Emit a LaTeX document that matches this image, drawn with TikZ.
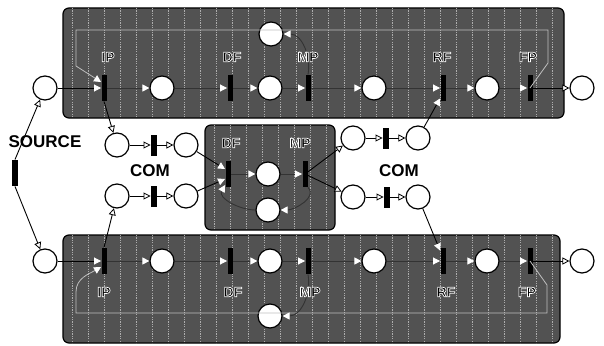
\documentclass[tikz,border=0pt]{standalone}
\usepackage{fontspec}
\setsansfont{Liberation Sans}
\usetikzlibrary{arrows.meta}

\newcommand{\stagebox}[4]{%
  \draw[stage] (#1,#2) rectangle (#3,#4);
  \begin{scope}
    \clip[rounded corners=6pt] (#1,#2) rectangle (#3,#4);
    \foreach \x in {0,16,...,512} { \draw[grain] ({#1+9+\x},#2) -- ({#1+9+\x},#4); }
  \end{scope}}

% black letters with a white rim, as printed on the stippled boxes
\newcommand{\rimmed}[1]{%
  \special{pdf:literal direct 2 Tr 0.7 w 1 1 1 RG}#1\special{pdf:literal direct 0 Tr 0 0 0 RG}}

\begin{document}
\begin{tikzpicture}[x=1pt, y=-1pt, line width=0.9pt,
  place/.style={circle, draw, fill=white, minimum size=24pt, inner sep=0pt, line width=1.2pt},
  trans/.style={rectangle, fill=black, minimum width=5pt, minimum height=26pt, inner sep=0pt},
  comtrans/.style={trans, minimum width=6pt, minimum height=21pt},
  arc/.style={-{Triangle[fill=white, length=7pt, width=7pt, line width=0.8pt]}},
  intip/.style={-{Triangle[fill=white, color=white, length=7pt, width=7pt]}},
  inarc/.style={intip, black!80},
  feedback/.style={intip, black!25, line width=0.8pt},
  stage/.style={draw, line width=1.2pt, rounded corners=6pt, fill=black!68},
  grain/.style={black!32, line width=0.7pt, dash pattern=on 1.2pt off 1.2pt},
  lbl/.style={font=\sffamily\bfseries\fontsize{17}{17}\selectfont, inner sep=0pt},
  stagelbl/.style={font=\sffamily\bfseries\fontsize{14}{14}\selectfont, inner sep=0pt}]
  \useasboundingbox (0,0) rectangle (604,345);

  % pipeline boxes
  \stagebox{63}{8}{564}{118}
  \stagebox{63}{235}{560}{343}
  \stagebox{205}{125}{335}{230}

  % top pipeline
  \node[place] (pint) at (45,88) {};
  \node[trans] (ipt) at (104,88) {};
  \node[place] (p1t) at (162,88) {};
  \node[trans] (dft) at (230,88) {};
  \node[place] (p2t) at (270,88) {};
  \node[place] (rest) at (271,34) {};
  \node[trans] (mpt) at (308,88) {};
  \node[place] (p3t) at (374,88) {};
  \node[trans] (rft) at (443,88) {};
  \node[place] (p4t) at (487,88) {};
  \node[trans] (fpt) at (530,88) {};
  \node[place] (poutt) at (582,88) {};

  % bottom pipeline
  \node[place] (pinb) at (45,261) {};
  \node[trans] (ipb) at (104,261) {};
  \node[place] (p1b) at (162,261) {};
  \node[trans] (dfb) at (230,261) {};
  \node[place] (p2b) at (270,261) {};
  \node[place] (resb) at (270,316) {};
  \node[trans] (mpb) at (308,261) {};
  \node[place] (p3b) at (374,261) {};
  \node[trans] (rfb) at (443,261) {};
  \node[place] (p4b) at (487,261) {};
  \node[trans] (fpb) at (530,261) {};
  \node[place] (poutb) at (582,261) {};

  % shared stage
  \node[trans] (dfm) at (228,174) {};
  \node[place] (pm) at (268,174) {};
  \node[place] (resm) at (268,210) {};
  \node[trans] (mpm) at (305,174) {};

  % communication
  \node[place] (cta) at (117,145) {};
  \node[comtrans] (comt) at (154,145) {};
  \node[place] (ctb) at (186,145) {};
  \node[place] (cba) at (117,196) {};
  \node[comtrans] (comb) at (154,196) {};
  \node[place] (cbb) at (186,196) {};
  \node[place] (crta) at (353,138) {};
  \node[comtrans] (comrt) at (386,138) {};
  \node[place] (crtb) at (418,138) {};
  \node[place] (crba) at (353,197) {};
  \node[comtrans] (comrb) at (387,197) {};
  \node[place] (crbb) at (418,197) {};

  \node[trans, minimum width=6pt] (src) at (15,173) {};

  % corners of the feedback loops FP -> IP
  \coordinate (fpct) at (548,63);
  \coordinate (fpet) at (548,30);
  \coordinate (ipet) at (76,30);
  \coordinate (ipct) at (76,66);
  \coordinate (fpcb) at (547,285);
  \coordinate (fpeb) at (547,313);
  \coordinate (ipeb) at (76,313);
  \coordinate (ipcb) at (76,292);

  % arcs, top
  \draw[arc] (src.north) -- (pint);
  \draw[intip] (pint) -- (ipt);
  \draw[feedback] (fpt.center) -- (fpct) -- (fpet) -- (ipet) -- (ipct) -- ([yshift=6pt]ipt.west);
  \draw[inarc] (ipt) -- (p1t);
  \draw[inarc] (p1t) -- (dft);
  \draw[inarc] (dft) -- (p2t);
  \draw[inarc] (p2t) -- (mpt);
  \draw[inarc] (mpt.north) to[out=80, in=0] (rest);
  \draw[inarc] (mpt) -- (p3t);
  \draw[inarc] (p3t) -- (rft);
  \draw[inarc] (rft) -- (p4t);
  \draw[inarc] (p4t) -- (fpt);
  \draw[arc] (fpt) -- (poutt);
  \draw[arc] (ipt.south) -- (cta);

  % arcs, bottom
  \draw[arc] (src.south) -- (pinb);
  \draw[intip] (pinb) -- (ipb);
  \draw[feedback] (fpb.center) -- (fpcb) -- (fpeb) -- (ipeb) -- (ipcb) to[out=90, in=210] ([yshift=-6pt]ipb.west);
  \draw[inarc] (ipb) -- (p1b);
  \draw[inarc] (p1b) -- (dfb);
  \draw[inarc] (dfb) -- (p2b);
  \draw[inarc] (p2b) -- (mpb);
  \draw[inarc] (mpb.south) to[out=-80, in=0] (resb);
  \draw[inarc] (mpb) -- (p3b);
  \draw[inarc] (p3b) -- (rfb);
  \draw[inarc] (rfb) -- (p4b);
  \draw[inarc] (p4b) -- (fpb);
  \draw[arc] (fpb) -- (poutb);
  \draw[arc] (ipb.north) -- (cba);

  % arcs, communication
  \draw[arc] (cta) -- (comt);
  \draw[arc] (comt) -- (ctb);
  \draw[arc] (cba) -- (comb);
  \draw[arc] (comb) -- (cbb);
  \draw[intip] (ctb) -- ([yshift=5pt]dfm.west);
  \draw[intip] (cbb) -- ([yshift=-5pt]dfm.west);
  \draw[inarc] (resm) to[out=180, in=-120] ([yshift=-11pt]dfm.west);
  \draw[inarc] (dfm) -- (pm);
  \draw[inarc] (pm) -- (mpm);
  \draw[inarc] (mpm.south east) to[out=-45, in=0] (resm);
  \draw[arc] (mpm) -- (crta);
  \draw[arc] (mpm) -- (crba);
  \draw[arc] (crta) -- (comrt);
  \draw[arc] (comrt) -- (crtb);
  \draw[arc] (crba) -- (comrb);
  \draw[arc] (comrb) -- (crbb);
  \draw[intip] (crtb) -- ([yshift=3pt]rft.south west);
  \draw[intip] (crbb) -- ([yshift=-3pt]rfb.north west);

  % labels
  \node[lbl] (srclbl) at (45,142) {SOURCE};
  \node[lbl] (comlbll) at (150,171) {COM};
  \node[lbl] (comlblr) at (399,171) {COM};
  \foreach \t/\x in {IP/108, DF/232, MP/308, RF/442, FP/528}
    { \node[stagelbl] at (\x,57) {\rimmed{\t}}; }
  \foreach \t/\x in {IP/104, DF/233, MP/310, RF/446, FP/527}
    { \node[stagelbl] at (\x,292) {\rimmed{\t}}; }
  \node[stagelbl] (dfmlbl) at (231,143) {\rimmed{DF}};
  \node[stagelbl] (mpmlbl) at (300,143) {\rimmed{MP}};
\end{tikzpicture}
\end{document}
